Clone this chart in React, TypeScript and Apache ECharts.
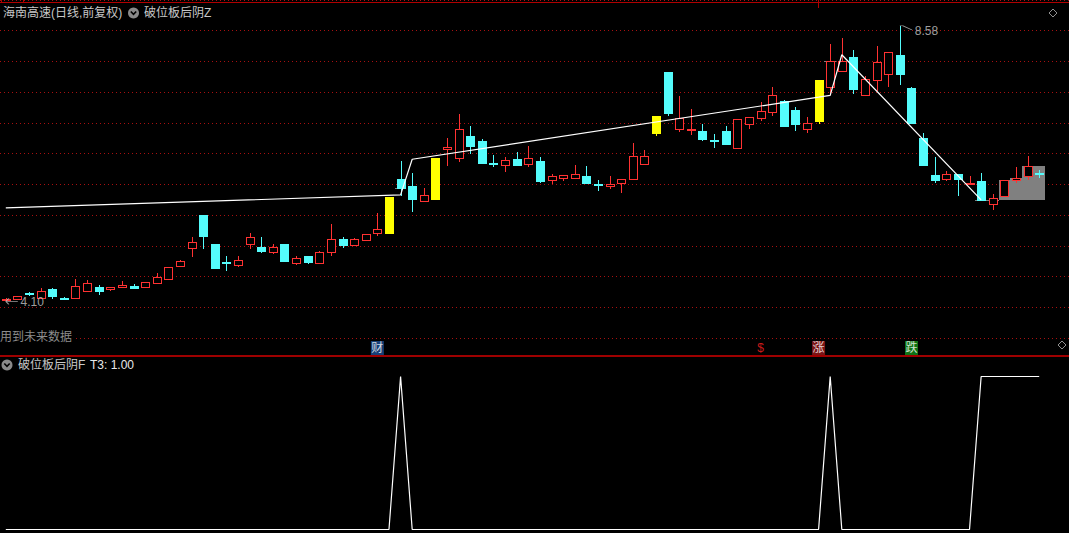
import React, { useEffect, useRef } from 'react';
import * as echarts from 'echarts';

// ---- data ----
const categories = Array.from({ length: 90 }, (_, i) => 'D' + (i + 1));
const opens = [
  4.13, 4.13, 4.23, 4.16, 4.30, 4.16, 4.16, 4.27, 4.34, 4.30,
  4.34, 4.35, 4.33, 4.40, 4.46, 4.67, 4.97, 5.51, 5.04, 4.74,
  4.69, 5.03, 4.99, 4.90, 5.03, 4.72, 4.83, 4.72, 4.90, 5.11,
  5.01, 5.10, 5.21, 5.21, 6.09, 5.98, 5.73, 5.77, 6.57, 6.43,
  6.79, 6.71, 6.35, 6.31, 6.42, 6.33, 6.38, 6.07, 6.10, 6.11,
  6.14, 6.00, 5.97, 6.02, 6.09, 6.33, 6.84, 7.83, 6.91, 6.89,
  6.87, 6.72, 6.87, 6.60, 6.98, 7.08, 7.18, 7.36, 7.21, 6.91,
  7.03, 7.59, 7.84, 8.08, 7.45, 7.70, 7.80, 8.10, 7.57, 6.75,
  6.16, 6.09, 6.17, 6.00, 6.06, 5.69, 5.81, 6.08, 6.14, 6.18,
];
const closes = [
  4.14, 4.19, 4.22, 4.26, 4.19, 4.14, 4.35, 4.39, 4.27, 4.34,
  4.36, 4.32, 4.41, 4.49, 4.65, 4.75, 5.07, 5.16, 4.64, 4.73,
  4.77, 5.15, 4.92, 4.99, 4.75, 4.80, 4.74, 4.91, 5.12, 5.01,
  5.12, 5.20, 5.28, 5.80, 5.94, 5.77, 5.83, 6.43, 6.61, 6.90,
  6.63, 6.35, 6.34, 6.40, 6.31, 6.43, 6.06, 6.14, 6.15, 6.17,
  6.02, 5.99, 6.01, 6.09, 6.46, 6.46, 7.11, 7.17, 7.08, 6.91,
  6.74, 6.71, 6.66, 7.06, 7.10, 7.19, 7.46, 6.95, 6.99, 7.00,
  7.70, 8.01, 8.00, 7.55, 7.71, 7.99, 8.15, 7.79, 7.00, 6.32,
  6.08, 6.17, 6.09, 6.03, 5.75, 5.78, 6.07, 6.10, 6.30, 6.17,
];
const highs = [
  4.16, 4.19, 4.25, 4.32, 4.31, 4.17, 4.46, 4.44, 4.36, 4.34,
  4.43, 4.38, 4.41, 4.56, 4.65, 4.77, 5.14, 5.51, 5.04, 4.83,
  4.83, 5.21, 5.15, 5.04, 5.04, 4.83, 4.83, 4.92, 5.35, 5.15,
  5.13, 5.20, 5.53, 5.80, 6.38, 6.19, 5.94, 6.43, 6.76, 7.15,
  6.95, 6.74, 6.48, 6.45, 6.53, 6.63, 6.45, 6.17, 6.16, 6.32,
  6.30, 6.08, 6.13, 6.09, 6.68, 6.56, 7.11, 7.83, 7.44, 7.22,
  6.99, 6.82, 6.95, 7.06, 7.10, 7.34, 7.58, 7.37, 7.26, 7.10,
  7.70, 8.29, 8.39, 8.18, 7.77, 8.25, 8.16, 8.58, 7.58, 6.83,
  6.45, 6.22, 6.17, 6.13, 6.19, 5.85, 6.07, 6.29, 6.47, 6.23,
];
const lows = [
  4.10, 4.13, 4.19, 4.15, 4.13, 4.14, 4.16, 4.27, 4.20, 4.27,
  4.32, 4.32, 4.31, 4.40, 4.46, 4.66, 4.82, 4.95, 4.64, 4.60,
  4.66, 4.95, 4.88, 4.87, 4.74, 4.69, 4.71, 4.72, 4.84, 4.97,
  5.01, 5.10, 5.16, 5.21, 5.82, 5.55, 5.71, 5.77, 6.30, 6.36,
  6.49, 6.34, 6.28, 6.20, 6.31, 6.28, 6.03, 6.00, 6.05, 6.10,
  6.02, 5.89, 5.93, 5.86, 6.09, 6.33, 6.79, 7.12, 6.86, 6.80,
  6.71, 6.60, 6.64, 6.60, 6.90, 7.03, 7.11, 6.95, 6.87, 6.83,
  6.99, 7.46, 7.83, 7.47, 7.45, 7.52, 7.59, 7.61, 7.00, 6.30,
  6.02, 6.05, 5.81, 6.00, 5.75, 5.59, 5.81, 6.02, 6.07, 6.11,
];
const highlightDays = [33, 37, 56, 70];

const zLineIdx = [0, 34, 35, 70, 71, 72, 84];
const zLineVal = [5.62, 5.83, 6.41, 7.42, 7.45, 8.11, 5.75];

const greyIdx = [34, 71, 84, 85, 86, 87, 88, 89];
const greyLow = [5.94, 8.01, 5.75, 5.75, 5.75, 5.75, 5.75, 5.75];
const greyHigh = [5.94, 8.01, 5.75, 5.75, 6.07, 6.10, 6.30, 6.30];

const signalF = [
  0, 0, 0, 0, 0, 0, 0, 0, 0, 0,
  0, 0, 0, 0, 0, 0, 0, 0, 0, 0,
  0, 0, 0, 0, 0, 0, 0, 0, 0, 0,
  0, 0, 0, 0, 1, 0, 0, 0, 0, 0,
  0, 0, 0, 0, 0, 0, 0, 0, 0, 0,
  0, 0, 0, 0, 0, 0, 0, 0, 0, 0,
  0, 0, 0, 0, 0, 0, 0, 0, 0, 0,
  0, 1, 0, 0, 0, 0, 0, 0, 0, 0,
  0, 0, 0, 0, 1, 1, 1, 1, 1, 1,
];

const eventIdx = [32, 65, 70, 78];
const eventText = ['财', '$', '涨', '跌'];
const eventBg = ['#1d4f93', 'rgba(0,0,0,0)', '#9a1a1a', '#14901a'];
const eventFg = ['#ffffff', '#ff2020', '#ffffff', '#ffffff'];

const extremeIdx = [77, 0];
const extremeVal = [8.58, 4.10];

const RED = '#ff3232';
const CYAN = '#54fcfc';
const YELLOW = '#ffff00';
const FONT = '"Liberation Sans", "Noto Sans CJK SC", sans-serif';

export default function App() {
  const ref = useRef<HTMLDivElement>(null);
  useEffect(() => {
    if (!ref.current) return;
    const chart = echarts.init(ref.current, null, { renderer: 'svg' });

    const candleData = opens.map((o, i) => [
      i, o, closes[i], lows[i], highs[i], highlightDays.indexOf(i) >= 0 ? 1 : 0,
    ]);
    const greyData = greyIdx.map((i, k) => [i, greyLow[k], greyHigh[k]]);
    const zData = zLineIdx.map((i, k) => [i, zLineVal[k]]);

    const option: any = {
      backgroundColor: '#000000',
      animation: false,
      grid: [
        { left: 0, top: -1.59, width: 1069, height: 339.8 },
        { left: 0, top: -1.59, width: 1045, height: 339.8 },
        { left: 0, top: 341, width: 1045, height: 14 },
        { left: 0, top: 376.5, width: 1045, height: 153 },
      ],
      xAxis: [
        { gridIndex: 0, type: 'value', min: 0, max: 1, show: false },
        { gridIndex: 1, type: 'category', data: categories, show: false },
        { gridIndex: 2, type: 'category', data: categories, show: false },
        { gridIndex: 3, type: 'category', data: categories, show: false },
      ],
      yAxis: [
        {
          gridIndex: 0, type: 'value', min: 3.5, max: 9, interval: 0.5,
          axisLine: { show: false }, axisTick: { show: false }, axisLabel: { show: false },
          splitLine: { show: true, lineStyle: { color: '#a81010', type: [1, 3], width: 1 } },
        },
        { gridIndex: 1, type: 'value', min: 3.5, max: 9, show: false },
        { gridIndex: 2, type: 'value', min: 0, max: 1, show: false },
        { gridIndex: 3, type: 'value', min: 0, max: 1, show: false },
      ],
      series: [
        { type: 'line', xAxisIndex: 0, yAxisIndex: 0, data: [], silent: true },
        {
          type: 'custom', name: 'grey', xAxisIndex: 1, yAxisIndex: 1, data: greyData,
          encode: { x: 0, y: [1, 2] }, silent: true, z: 1,
          renderItem: (params: any, api: any) => {
            const i = api.value(0);
            const pL = api.coord([i, api.value(1)]);
            const pH = api.coord([i, api.value(2)]);
            const bw = api.size([1, 0])[0];
            const x0 = Math.round(pL[0] - bw / 2);
            const x1 = Math.round(pL[0] + bw / 2);
            const yT = Math.round(pH[1]);
            const yB = Math.max(yT + 1, Math.round(pL[1]));
            return {
              type: 'rect',
              shape: { x: x0, y: yT, width: x1 - x0, height: yB - yT },
              style: { fill: '#808080' },
            };
          },
        },
        {
          type: 'custom', name: 'K', xAxisIndex: 1, yAxisIndex: 1, data: candleData,
          encode: { x: 0, y: [1, 2, 3, 4] }, silent: true, z: 2,
          renderItem: (params: any, api: any) => {
            const i = api.value(0);
            const o = api.value(1), c = api.value(2), l = api.value(3), h = api.value(4);
            const hl = api.value(5);
            const x = api.coord([i, o])[0];
            const yo = api.coord([i, o])[1];
            const yc = api.coord([i, c])[1];
            const yl = Math.round(api.coord([i, l])[1]);
            const yh = Math.round(api.coord([i, h])[1]);
            const up = c >= o;
            const color = hl ? YELLOW : up ? RED : CYAN;
            const k = Math.round(x);
            const top = Math.round(Math.min(yo, yc));
            let bot = Math.round(Math.max(yo, yc));
            const children: any[] = [];
            if (yh < top) {
              children.push({ type: 'rect', shape: { x: k, y: yh, width: 1, height: top - yh }, style: { fill: color } });
            }
            if (bot - top < 2) {
              bot = top + 2;
              children.push({ type: 'rect', shape: { x: k - 4, y: top, width: 9, height: 2 }, style: { fill: color } });
            } else {
              children.push({ type: 'rect', shape: { x: k - 4, y: top, width: 9, height: bot - top + 1 }, style: { fill: color } });
              if (up && !hl && bot - top > 1) {
                children.push({ type: 'rect', shape: { x: k - 3, y: top + 1, width: 7, height: bot - top - 1 }, style: { fill: '#000000' } });
              }
              bot = bot + 1;
            }
            if (yl > bot) {
              children.push({ type: 'rect', shape: { x: k, y: bot, width: 1, height: yl - bot }, style: { fill: color } });
            }
            return { type: 'group', children };
          },
        },
        {
          type: 'line', name: 'Z', xAxisIndex: 1, yAxisIndex: 1, data: zData,
          symbol: 'none', silent: true, z: 3,
          lineStyle: { color: '#ffffff', width: 1.2 },
        },
        {
          type: 'scatter', xAxisIndex: 1, yAxisIndex: 1, silent: true, z: 4,
          data: [
            {
              value: [extremeIdx[0], extremeVal[0]],
              symbol: 'path://M0 0 L3 0 L12 4', symbolSize: [12, 4], symbolOffset: [6, 2],
              label: { position: 'right', distance: 2, offset: [0, 3], formatter: extremeVal[0].toFixed(2) },
            },
            {
              value: [extremeIdx[1], extremeVal[1]],
              symbol: 'path://M0 3 L12 3 M0 3 L3 0 M0 3 L3 6', symbolSize: [12, 6], symbolOffset: [6, 0],
              label: { position: 'right', distance: 2, offset: [0, 1], formatter: extremeVal[1].toFixed(2) },
            },
          ],
          itemStyle: { color: 'rgba(0,0,0,0)', borderColor: '#c0c0c0', borderWidth: 1 },
          label: { show: true, color: '#c8c8c8', fontSize: 12, fontFamily: FONT },
        },
        {
          type: 'scatter', xAxisIndex: 2, yAxisIndex: 2, silent: true, symbol: 'rect', symbolSize: [13, 14],
          data: eventIdx.map((i, k) => ({
            value: [i, 0.5],
            itemStyle: { color: eventBg[k] },
            label: { show: true, position: 'inside', formatter: eventText[k], color: eventFg[k], fontSize: 12, fontFamily: FONT },
          })),
        },
        {
          type: 'line', name: 'T3', xAxisIndex: 3, yAxisIndex: 3, data: signalF,
          symbol: 'none', silent: true, clip: false,
          lineStyle: { color: '#ffffff', width: 1.2 },
        },
      ],
      graphic: [
        { type: 'line', z: 100, shape: { x1: 0, y1: 2.5, x2: 1069, y2: 2.5 }, style: { stroke: '#b00000', lineWidth: 1 } },
        { type: 'line', z: 100, shape: { x1: 1.5, y1: 0, x2: 1.5, y2: 3 }, style: { stroke: '#b00000', lineWidth: 1 } },
        { type: 'line', z: 100, shape: { x1: 23.5, y1: 0, x2: 23.5, y2: 3 }, style: { stroke: '#b00000', lineWidth: 1 } },
        { type: 'line', z: 100, shape: { x1: 818.5, y1: 0, x2: 818.5, y2: 8 }, style: { stroke: '#b00000', lineWidth: 1 } },
        { type: 'text', z: 100, x: 3, y: 13, style: { text: '海南高速(日线,前复权)', fill: '#c8c8c8', font: '12px ' + FONT, verticalAlign: 'middle' } },
        { type: 'circle', z: 100, shape: { cx: 133.5, cy: 13, r: 5.5 }, style: { fill: '#8a8a8a' } },
        { type: 'polyline', z: 101, shape: { points: [[130.8, 11.5], [133.5, 14.3], [136.2, 11.5]] }, style: { stroke: '#000', lineWidth: 1.6, fill: null } },
        { type: 'text', z: 100, x: 144, y: 13, style: { text: '破位板后阴Z', fill: '#c8c8c8', font: '12px ' + FONT, verticalAlign: 'middle' } },
        { type: 'polygon', z: 100, shape: { points: [[1053, 9], [1057, 13], [1053, 17], [1049, 13]] }, style: { stroke: '#909090', fill: null, lineWidth: 1 } },
        { type: 'rect', z: 100, shape: { x: 0, y: 330, width: 74, height: 13 }, style: { fill: '#000' } },
        { type: 'text', z: 101, x: 0, y: 336.5, style: { text: '用到未来数据', fill: '#8c8c8c', font: '12px ' + FONT, verticalAlign: 'middle' } },
        { type: 'polygon', z: 100, shape: { points: [[1062, 341], [1066, 345], [1062, 349], [1058, 345]] }, style: { stroke: '#909090', fill: null, lineWidth: 1 } },
        { type: 'line', z: 100, shape: { x1: 0, y1: 356, x2: 1069, y2: 356 }, style: { stroke: '#d40000', lineWidth: 1.5 } },
        { type: 'circle', z: 100, shape: { cx: 7, cy: 365, r: 5.5 }, style: { fill: '#8a8a8a' } },
        { type: 'polyline', z: 101, shape: { points: [[4.3, 363.5], [7, 366.3], [9.7, 363.5]] }, style: { stroke: '#000', lineWidth: 1.6, fill: null } },
        { type: 'text', z: 100, x: 18, y: 365, style: { text: '破位板后阴F', fill: '#c8c8c8', font: '12px ' + FONT, verticalAlign: 'middle' } },
        { type: 'text', z: 100, x: 90, y: 365, style: { text: 'T3: 1.00', fill: '#e8e8e8', font: '12px ' + FONT, verticalAlign: 'middle' } },
      ],
    };
    chart.setOption(option);
    return () => chart.dispose();
  }, []);
  return (
    <div
      ref={ref}
      style={{ position: 'fixed', left: 0, top: 0, width: 1069, height: 533, background: '#000' }}
    />
  );
}
